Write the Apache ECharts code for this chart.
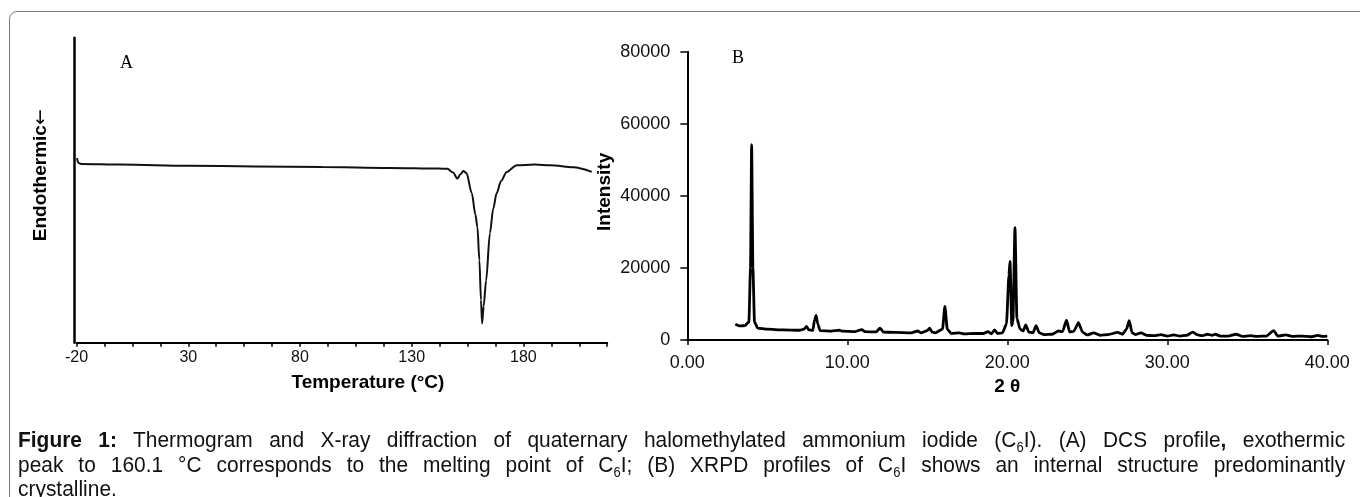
<!DOCTYPE html>
<html>
<head>
<meta charset="utf-8">
<script src="https://cdn.jsdelivr.net/npm/echarts@6/dist/echarts.min.js"></script>
<style>
  html, body { margin: 0; padding: 0; background: #fff; }
  #wrap { position: relative; width: 1360px; height: 497px; overflow: hidden; background: #fff; }
  #frame { position: absolute; left: 9px; top: 11px; width: 1400px; height: 600px;
           border: 1.5px solid #7a7a7a; border-top-left-radius: 8px; box-sizing: border-box; }
  #chart { position: absolute; left: 0; top: 0; width: 1360px; height: 497px; }
  #caption { position: absolute; left: 18px; top: 428px; width: 1427px; color: #111;
             transform: scaleX(0.93); transform-origin: 0 0;
             font-family: "Liberation Sans", Arial, sans-serif; font-size: 22.5px; }
  #caption .ln { height: 24.5px; line-height: 24.5px; text-align: justify; text-align-last: justify; white-space: nowrap; }
  #caption .ln.last { text-align-last: left; }
  #caption b { font-weight: bold; }
  #caption sub { font-size: 14px; vertical-align: -5px; line-height: 0; }
</style>
</head>
<body>
<div id="wrap">
  <div id="frame"></div>
  <div id="chart"></div>
  <div id="caption">
    <div class="ln"><b>Figure 1:</b> Thermogram and X-ray diffraction of quaternary halomethylated ammonium iodide (C<sub>6</sub>I). (A) DCS profile<b>,</b> exothermic</div>
    <div class="ln">peak to 160.1 °C corresponds to the melting point of C<sub>6</sub>I; (B) XRPD profiles of C<sub>6</sub>I shows an internal structure predominantly</div>
    <div class="ln last">crystalline.</div>
  </div>
</div>
<script>
// ---- Panel A: DSC thermogram ----
const dscTemp   = [-19.8, -19.3, -18, 0, 30, 60, 90, 120, 142, 146, 148.5, 150.4, 151.8, 153.1, 154.5, 156.9, 158.5, 159.4, 160.3, 161, 161.5, 162.2, 163.3, 165.0, 166.5, 168.0, 170, 172.5, 177.0, 185, 192.1, 202.4, 210.6];
const dscSignal = [60.5, 59.0, 58.6, 58.4, 58.0, 57.8, 57.6, 57.3, 57.1, 57.0, 55.8, 53.8, 55.2, 56.3, 55.6, 49, 42, 37.9, 27, 14, 6.3, 12, 20.4, 35.9, 44, 49, 53, 56, 58.2, 58.4, 58.2, 57.5, 56];
const dscTickLabels = [-20, 30, 80, 130, 180];

// ---- Panel B: XRPD pattern ----
const xrdAngle = [3.0, 3.3, 3.6, 3.85, 3.95, 4.02, 4.1, 4.2, 4.4, 5.0, 6.0, 7.0, 7.3, 7.45, 7.6, 7.85, 7.95, 8.05, 8.15, 8.3,
  9.0, 9.5, 9.7, 10.5, 10.9, 11.1, 11.8, 12.05, 12.25, 13.0, 14.0, 14.4, 14.6, 15.0, 15.15, 15.3, 15.5, 15.95, 16.1, 16.25,
  16.5, 17.0, 17.3, 18.0, 18.5, 18.8, 19.0, 19.2, 19.4, 19.7, 19.95, 20.1, 20.17, 20.28, 20.35, 20.48, 20.6, 20.8, 21.0, 21.15,
  21.35, 21.6, 21.8, 22.0, 22.3, 22.8, 23.2, 23.45, 23.7, 23.9, 24.15, 24.45, 24.7, 25.0, 25.4, 25.8, 26.3, 26.9, 27.2, 27.45,
  27.62, 27.8, 28.0, 28.35, 28.7, 29.2, 29.6, 30.0, 30.4, 30.8, 31.2, 31.6, 31.9, 32.2, 32.5, 32.8, 33.0, 33.3, 33.8, 34.3,
  34.7, 35.2, 35.6, 36.2, 36.65, 36.9, 37.4, 37.8, 38.4, 39.0, 39.4, 39.7, 40.0];
const xrdIntensity = [4400, 3900, 4000, 5000, 20000, 54200, 20000, 5000, 3300, 3000, 2800, 2700, 3000, 3800, 2800, 2700, 5500, 6800, 4500, 2600,
  2450, 2700, 2450, 2350, 2900, 2300, 2250, 3300, 2200, 2100, 2000, 2500, 2000, 2600, 3300, 2200, 2000, 3000, 9300, 3000,
  1800, 2000, 1700, 1800, 1800, 2300, 1700, 2800, 1800, 2000, 4500, 18000, 21800, 4000, 5000, 31200, 6000, 3000, 2500, 4200,
  2200, 2000, 4000, 2000, 1500, 1600, 2500, 2300, 5500, 2200, 2400, 4800, 2200, 1400, 2000, 1300, 1500, 2100, 1600, 3000,
  5400, 2000, 1500, 2000, 1300, 1200, 1500, 1100, 1400, 1100, 1300, 2200, 1400, 1200, 1600, 1300, 1600, 1100, 1100, 1600,
  1000, 1200, 1000, 1100, 2600, 1100, 1400, 1000, 1100, 900, 1300, 1000, 1100];
const xrdTickLabels = ['0.00', '10.00', '20.00', '30.00', '40.00'];
const xrdYTicks = [0, 20000, 40000, 60000, 80000];

const chart = echarts.init(document.getElementById('chart'), null, { renderer: 'canvas' });
const FONT = '"Liberation Sans", Arial, sans-serif';

chart.setOption({
  animation: false,
  backgroundColor: 'transparent',
  grid: [
    { left: 76.6, top: 37.7, width: 530.6, height: 305, containLabel: false },
    { left: 687.3, top: 51.7, width: 640, height: 288.3, containLabel: false }
  ],
  xAxis: [
    {
      gridIndex: 0, type: 'value', min: -20, max: 217.5, interval: 50,
      name: 'Temperature (°C)', nameLocation: 'middle', nameGap: 31,
      nameTextStyle: { fontFamily: FONT, fontWeight: 'bold', fontSize: 19, color: '#000', padding: [0, 0, 0, 52] },
      axisLine: { show: true, onZero: false, lineStyle: { color: '#000', width: 2 } },
      axisTick: { show: true, length: 4, lineStyle: { color: '#000', width: 1.5 } },
      minorTick: { show: true, splitNumber: 4, length: 4, lineStyle: { color: '#000', width: 1.5 } },
      splitLine: { show: false },
      axisLabel: { margin: 7, fontFamily: FONT, fontSize: 16, color: '#111', showMaxLabel: false,
                   formatter: v => (dscTickLabels.indexOf(v) >= 0 ? String(v) : '') }
    },
    {
      gridIndex: 1, type: 'value', min: 0, max: 40, interval: 10,
      name: '2 θ', nameLocation: 'middle', nameGap: 34,
      nameTextStyle: { fontFamily: FONT, fontWeight: 'bold', fontSize: 19, color: '#000' },
      axisLine: { show: true, onZero: false, lineStyle: { color: '#000', width: 2 } },
      axisTick: { show: true, length: 5, lineStyle: { color: '#000', width: 1.5 } },
      splitLine: { show: false },
      axisLabel: { margin: 14, fontFamily: FONT, fontSize: 18, color: '#111',
                   formatter: v => xrdTickLabels[Math.round(v / 10)] }
    }
  ],
  yAxis: [
    {
      gridIndex: 0, type: 'value', min: 0, max: 100, offset: 2,
      name: 'Endothermic{a|←}', nameLocation: 'middle', nameGap: 24,
      nameTextStyle: { fontFamily: FONT, fontWeight: 'bold', fontSize: 19, color: '#000', padding: [0, 0, 0, 30],
                       rich: { a: { fontFamily: '"DejaVu Sans", sans-serif', fontWeight: 'normal', fontSize: 19, color: '#000' } } },
      axisLine: { show: true, onZero: false, lineStyle: { color: '#000', width: 2.5 } },
      axisTick: { show: false }, axisLabel: { show: false }, splitLine: { show: false }
    },
    {
      gridIndex: 1, type: 'value', min: 0, max: 80000, interval: 20000,
      name: 'Intensity', nameLocation: 'middle', nameGap: 73,
      nameTextStyle: { fontFamily: FONT, fontWeight: 'bold', fontSize: 19, color: '#000', padding: [0, 0, 0, 8] },
      axisLine: { show: true, onZero: false, lineStyle: { color: '#000', width: 2 } },
      axisTick: { show: true, length: 7, lineStyle: { color: '#000', width: 1.5 } },
      splitLine: { show: false },
      axisLabel: { margin: 17, fontFamily: FONT, fontSize: 18, color: '#111',
                   formatter: v => (xrdYTicks.indexOf(v) >= 0 ? String(v) : '') }
    }
  ],
  series: [
    {
      name: 'DSC', type: 'line', xAxisIndex: 0, yAxisIndex: 0,
      data: dscTemp.map((t, i) => [t, dscSignal[i]]),
      showSymbol: false, smooth: 0.3, smoothMonotone: 'x',
      lineStyle: { color: '#111', width: 2 }
    },
    {
      name: 'XRPD', type: 'line', xAxisIndex: 1, yAxisIndex: 1,
      data: xrdAngle.map((a, i) => [a, xrdIntensity[i]]),
      showSymbol: false, smooth: 0.2, smoothMonotone: 'x',
      lineStyle: { color: '#000', width: 2.8 }
    }
  ],
  graphic: [
    { type: 'text', left: 120, top: 54, style: { text: 'A', font: '18px "Liberation Serif", "Times New Roman", serif', fill: '#000' } },
    { type: 'text', left: 732, top: 49, style: { text: 'B', font: '18px "Liberation Serif", "Times New Roman", serif', fill: '#000' } }
  ]
});
</script>
</body>
</html>
